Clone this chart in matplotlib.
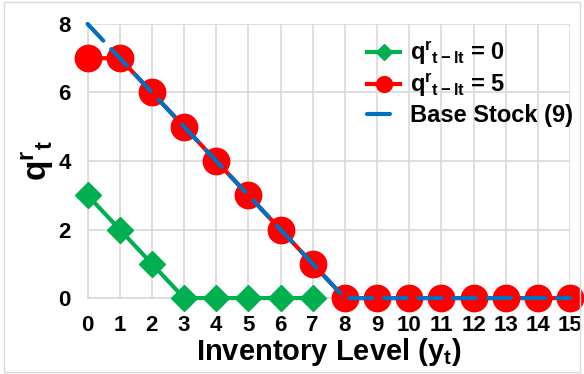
import matplotlib.pyplot as plt
from matplotlib.patches import Rectangle

plt.rcParams['font.family'] = ['Liberation Sans', 'DejaVu Sans']
plt.rcParams['font.weight'] = 'bold'
plt.rcParams['mathtext.fontset'] = 'custom'
plt.rcParams['mathtext.rm'] = 'Liberation Sans:bold'
plt.rcParams['mathtext.bf'] = 'Liberation Sans:bold'
plt.rcParams['mathtext.it'] = 'Liberation Sans:bold'

inventory = list(range(16))
q_zero = [3, 2, 1, 0, 0, 0, 0, 0]
q_five = [7, 7, 6, 5, 4, 3, 2, 1, 0, 0, 0, 0, 0, 0, 0, 0]
base_stock = [8, 7, 6, 5, 4, 3, 2, 1, 0, 0, 0, 0, 0, 0, 0, 0]

fig = plt.figure(figsize=(5.84, 3.74), dpi=100)
ax = fig.add_axes([0.150, 0.203, 0.826, 0.733])

green = '#00b050'
red = '#ff0000'
blue = '#0070c0'

ax.plot(inventory[:len(q_zero)], q_zero, color=green, lw=3, marker='D',
        ms=13, label=r'$\mathbf{q^r}_{\mathbf{t-lt}}$ = 0', clip_on=False, zorder=3)
ax.plot(inventory, q_five, color=red, lw=3, marker='o', ms=19,
        label=r'$\mathbf{q^r}_{\mathbf{t-lt}}$ = 5', clip_on=False, zorder=4)
ax.plot(inventory, base_stock, color=blue, lw=3, ls=(0, (5.5, 2.8)),
        dash_capstyle='round', label='Base Stock (9)', clip_on=False, zorder=5)

ax.set_xlim(0, 15)
ax.set_ylim(0, 8)
ax.set_xticks(inventory)
ax.set_yticks([0, 2, 4, 6, 8])
ax.grid(True, color='#d9d9d9', lw=1.2)
ax.set_axisbelow(True)
for side in ['top', 'right']:
    ax.spines[side].set_visible(False)
for side in ['left', 'bottom']:
    ax.spines[side].set_color('#d9d9d9')
    ax.spines[side].set_linewidth(1.2)
ax.tick_params(length=0, labelsize=16, pad=12)
for lab in ax.get_xticklabels() + ax.get_yticklabels():
    lab.set_fontweight('bold')

ax.set_xlabel(r'Inventory Level (y$_\mathbf{t}$)', fontsize=21, fontweight='bold', labelpad=0)
ax.set_ylabel(r'$\mathbf{q^r}_\mathbf{t}$', fontsize=24, fontweight='bold', labelpad=2)

leg = ax.legend(loc='upper left', bbox_to_anchor=(0.56, 0.975), frameon=False,
                fontsize=17, handlelength=1.4, handletextpad=0.4, markerscale=0.6,
                labelspacing=0.2, borderaxespad=0)
for t in leg.get_texts():
    t.set_fontweight('bold')

fig.patches.append(Rectangle((0.006, 0.006), 0.988, 0.988, transform=fig.transFigure,
                             fill=False, edgecolor='#d9d9d9', lw=1))

fig.savefig('out.png', dpi=100)
